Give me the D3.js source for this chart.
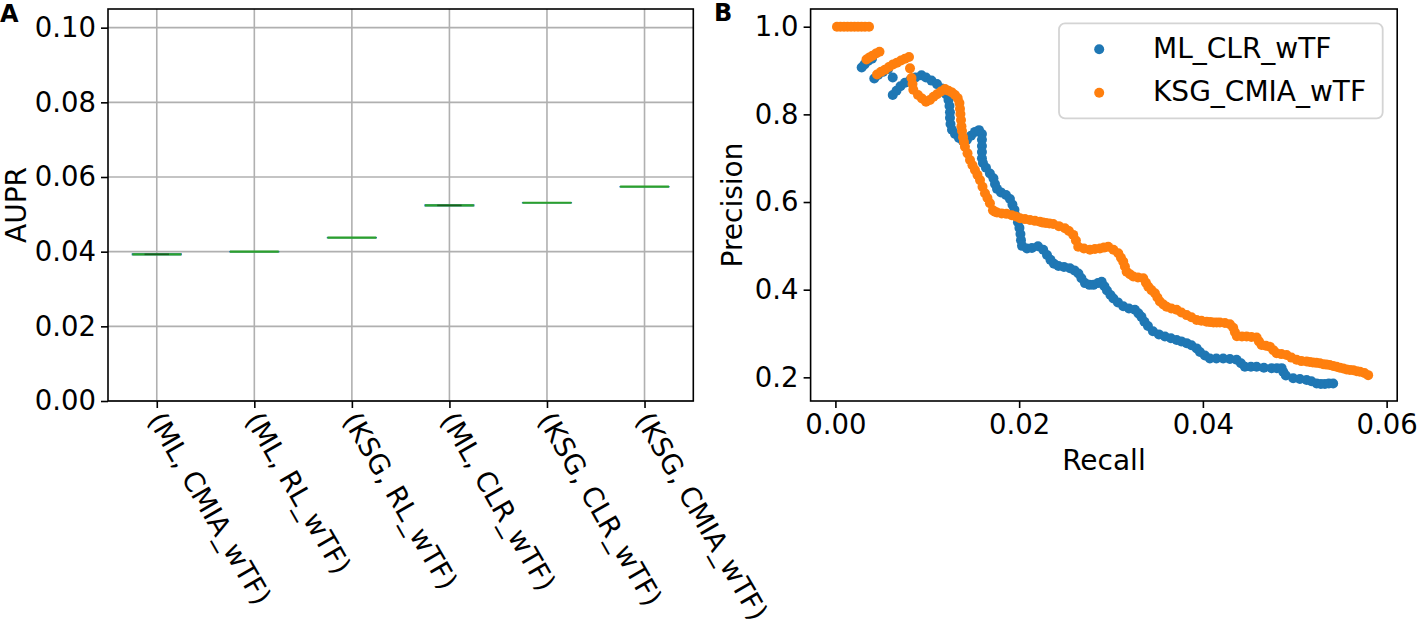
<!DOCTYPE html>
<html>
<head>
<meta charset="utf-8">
<script src="https://cdn.jsdelivr.net/npm/d3@7"></script>
<style>
  html, body { margin: 0; padding: 0; background: #fff; }
  svg { display: block; font-family: "DejaVu Sans", sans-serif; }
</style>
</head>
<body>
<svg id="chart" width="1417" height="632"></svg>
<script>
// ---------------- DATA ----------------
// Panel A: AUPR boxplots (boxes collapse to near single values)
const categories = ["(ML, CMIA_wTF)", "(ML, RL_wTF)", "(KSG, RL_wTF)", "(ML, CLR_wTF)", "(KSG, CLR_wTF)", "(KSG, CMIA_wTF)"];
const auprMedian = [0.0393, 0.0400, 0.04375, 0.0524, 0.0531, 0.0574];
const auprLow    = [0.0392, 0.0400, 0.04375, 0.0523, 0.0531, 0.0574];
const auprHigh   = [0.0394, 0.0400, 0.04375, 0.0525, 0.0531, 0.0574];
const auprTicks  = [0.00, 0.02, 0.04, 0.06, 0.08, 0.10];

// Panel B: precision-recall points [recall, precision]
const mlClrPoints = [
[0.00286,0.907],[0.00317,0.914],[0.00355,0.922],[0.00398,0.927],
[0.00423,0.882],[0.00464,0.890],[0.00518,0.897],[0.00572,0.903],
[0.00624,0.884],
[0.00624,0.844],[0.00665,0.854],[0.00708,0.864],[0.00757,0.872],[0.00812,0.878],[0.00872,0.884],[0.00937,0.889],
[0.00986,0.884],[0.01046,0.877],[0.01106,0.869],[0.01160,0.859],[0.01204,0.846],[0.01231,0.833],[0.01242,0.819],
[0.01247,0.805],[0.01247,0.792],[0.01253,0.778],[0.01269,0.765],[0.01302,0.755],[0.01345,0.746],[0.01389,0.739],
[0.01432,0.742],[0.01476,0.751],[0.01519,0.760],[0.01563,0.764],[0.01595,0.755],[0.01595,0.742],[0.01595,0.728],
[0.01595,0.714],[0.01595,0.700],[0.01606,0.689],[0.01639,0.678],[0.01682,0.665],[0.01720,0.654],[0.01737,0.641],
[0.01759,0.630],[0.01802,0.622],[0.01857,0.616],[0.01900,0.607],[0.01927,0.594],[0.01949,0.582],[0.01965,0.568],
[0.01987,0.554],[0.02003,0.541],[0.02014,0.527],[0.02020,0.513],[0.02031,0.500],[0.02085,0.494],[0.02139,0.495],
[0.02205,0.499],[0.02262,0.491],[0.02303,0.479],[0.02341,0.468],[0.02379,0.459],[0.02428,0.454],[0.02488,0.452],
[0.02553,0.449],[0.02602,0.444],[0.02645,0.437],[0.02678,0.426],[0.02716,0.415],[0.02765,0.411],[0.02809,0.411],
[0.02858,0.415],[0.02898,0.418],[0.02928,0.408],[0.02956,0.398],[0.02994,0.388],[0.03026,0.380],[0.03075,0.371],
[0.03133,0.362],[0.03195,0.357],[0.03260,0.354],[0.03298,0.346],[0.03331,0.338],[0.03364,0.327],[0.03402,0.317],
[0.03456,0.305],[0.03521,0.298],[0.03587,0.293],[0.03652,0.289],[0.03714,0.285],[0.03766,0.282],[0.03823,0.278],
[0.03875,0.273],[0.03932,0.266],[0.03968,0.258],[0.04022,0.250],[0.04076,0.243],[0.04147,0.243],[0.04221,0.243],
[0.04294,0.242],[0.04367,0.240],[0.04414,0.232],[0.04457,0.224],[0.04523,0.224],[0.04585,0.224],[0.04664,0.222],
[0.04748,0.221],[0.04805,0.221],[0.04857,0.221],[0.04876,0.212],[0.04903,0.204],[0.04983,0.198],[0.05056,0.196],
[0.05129,0.194],[0.05181,0.191],[0.05238,0.186],[0.05284,0.185],[0.05328,0.185],[0.05371,0.186],[0.05418,0.186]
];
const ksgCmiaPoints = [
[0.00017,1.000],[0.00055,1.000],[0.00094,1.000],[0.00132,1.000],[0.00170,1.000],[0.00208,1.000],[0.00246,1.000],
[0.00284,1.000],[0.00322,1.000],[0.00366,1.000],
[0.00338,0.925],[0.00371,0.930],[0.00404,0.934],[0.00442,0.939],[0.00480,0.943],
[0.00453,0.891],[0.00496,0.897],[0.00540,0.902],[0.00583,0.908],[0.00627,0.914],[0.00670,0.918],[0.00714,0.923],
[0.00757,0.927],[0.00801,0.931],
[0.00812,0.905],[0.00828,0.883],[0.00839,0.869],[0.00848,0.856],[0.00899,0.844],[0.00942,0.836],[0.00986,0.829],
[0.01029,0.833],[0.01068,0.840],[0.01106,0.846],[0.01149,0.852],[0.01193,0.858],[0.01231,0.854],[0.01269,0.850],
[0.01302,0.844],[0.01331,0.837],[0.01350,0.826],[0.01356,0.813],[0.01361,0.801],[0.01367,0.787],[0.01372,0.773],
[0.01378,0.762],[0.01389,0.748],[0.01399,0.737],[0.01410,0.726],[0.01438,0.711],[0.01465,0.696],[0.01492,0.684],
[0.01519,0.673],[0.01546,0.662],[0.01574,0.650],[0.01601,0.635],[0.01628,0.620],[0.01655,0.609],[0.01682,0.597],
[0.01715,0.581],[0.01737,0.578],[0.01759,0.576],[0.01810,0.574],[0.01862,0.573],[0.01919,0.570],[0.01965,0.567],
[0.02009,0.563],[0.02063,0.561],[0.02118,0.559],[0.02172,0.557],[0.02226,0.555],[0.02260,0.553],[0.02292,0.552],
[0.02330,0.551],[0.02371,0.550],[0.02433,0.545],[0.02498,0.540],[0.02542,0.534],[0.02589,0.525],[0.02618,0.512],
[0.02643,0.498],[0.02705,0.494],[0.02771,0.491],[0.02825,0.493],[0.02879,0.494],[0.02923,0.496],[0.02970,0.498],
[0.03026,0.491],[0.03079,0.483],[0.03108,0.473],[0.03133,0.464],[0.03151,0.453],[0.03170,0.441],[0.03206,0.435],
[0.03242,0.430],[0.03293,0.428],[0.03351,0.426],[0.03380,0.416],[0.03405,0.407],[0.03440,0.399],[0.03478,0.392],
[0.03505,0.382],[0.03532,0.373],[0.03570,0.366],[0.03605,0.361],[0.03657,0.357],[0.03714,0.354],[0.03766,0.348],
[0.03823,0.342],[0.03875,0.337],[0.03932,0.331],[0.03984,0.329],[0.04041,0.327],[0.04080,0.326],[0.04115,0.325],
[0.04150,0.325],[0.04185,0.325],[0.04240,0.324],[0.04294,0.321],[0.04330,0.313],[0.04349,0.303],[0.04370,0.294],
[0.04425,0.293],[0.04476,0.293],[0.04528,0.292],[0.04585,0.291],[0.04610,0.282],[0.04639,0.274],[0.04686,0.272],
[0.04729,0.270],[0.04767,0.262],[0.04802,0.255],[0.04854,0.253],[0.04911,0.251],[0.04963,0.245],[0.05020,0.240],
[0.05072,0.237],[0.05129,0.236],[0.05163,0.235],[0.05197,0.234],[0.05235,0.233],[0.05273,0.232],[0.05310,0.230],
[0.05344,0.229],[0.05380,0.228],[0.05418,0.226],[0.05455,0.224],[0.05491,0.222],[0.05528,0.220],[0.05564,0.218],
[0.05600,0.217],[0.05638,0.216],[0.05675,0.214],[0.05709,0.213],[0.05758,0.210],[0.05799,0.205]
];
const recallTicks = [0.00, 0.02, 0.04, 0.06];
const precisionTicks = [0.2, 0.4, 0.6, 0.8, 1.0];
const seriesNames = ["ML_CLR_wTF", "KSG_CMIA_wTF"];
const seriesColors = ["#1f77b4", "#ff7f0e"];

// ---------------- CHART ----------------
const svg = d3.select("#chart");
const tickFont = 27.5, labelFont = 28, catFont = 27.5;
const gridColor = "#b0b0b0";

// Panel A
const A = { left: 108, right: 693.3, top: 9, bottom: 401 };
const xA = d3.scalePoint().domain(categories).range([A.left, A.right]).padding(0.5);
const yA = d3.scaleLinear().domain([0, 0.105]).range([A.bottom, A.top]);
const step = xA.step();
const boxW = step * 0.5;

const gA = svg.append("g");
// grid
gA.append("g").selectAll("line").data(auprTicks).join("line")
  .attr("x1", A.left).attr("x2", A.right)
  .attr("y1", d => yA(d)).attr("y2", d => yA(d))
  .attr("stroke", gridColor).attr("stroke-width", 1.6);
gA.append("g").selectAll("line").data(categories).join("line")
  .attr("x1", d => xA(d)).attr("x2", d => xA(d))
  .attr("y1", A.top).attr("y2", A.bottom)
  .attr("stroke", gridColor).attr("stroke-width", 1.6);

// boxes
const boxes = categories.map((c, i) => ({ c, med: auprMedian[i], lo: auprLow[i], hi: auprHigh[i] }));
gA.append("g").selectAll("rect").data(boxes).join("rect")
  .attr("x", d => xA(d.c) - boxW / 2).attr("width", boxW)
  .attr("y", d => yA(d.hi)).attr("height", d => Math.max(0.01, yA(d.lo) - yA(d.hi)))
  .attr("fill", "none").attr("stroke", "#1f77b4").attr("stroke-width", 1.4);
gA.append("g").selectAll("line").data(boxes).join("line")
  .attr("x1", d => xA(d.c) - boxW / 2).attr("x2", d => xA(d.c) + boxW / 2)
  .attr("y1", d => yA(d.med)).attr("y2", d => yA(d.med))
  .attr("stroke", "#2ca02c").attr("stroke-width", 2.2);
// caps (visible only where there is spread)
const caps = [];
boxes.filter(d => d.hi > d.lo).forEach(d => { caps.push({ c: d.c, v: d.lo }); caps.push({ c: d.c, v: d.hi }); });
gA.append("g").selectAll("line").data(caps).join("line")
  .attr("x1", d => xA(d.c) - boxW / 4).attr("x2", d => xA(d.c) + boxW / 4)
  .attr("y1", d => yA(d.v)).attr("y2", d => yA(d.v))
  .attr("stroke", "#000").attr("stroke-opacity", 0.35).attr("stroke-width", 1);

// axes A
const axLeftA = gA.append("g").attr("transform", `translate(${A.left},0)`)
  .call(d3.axisLeft(yA).tickValues(auprTicks).tickFormat(d3.format(".2f")).tickSize(7).tickPadding(5));
const axBotA = gA.append("g").attr("transform", `translate(0,${A.bottom})`)
  .call(d3.axisBottom(xA).tickSize(7).tickPadding(7));
axBotA.selectAll("text").remove();
[axLeftA, axBotA].forEach(ax => {
  ax.select(".domain").remove();
  ax.selectAll("line").attr("stroke", "#000").attr("stroke-width", 1.6);
  ax.selectAll("text").attr("font-size", tickFont).attr("fill", "#000").attr("font-family", "DejaVu Sans");
});
// rotated category labels
gA.append("g").selectAll("text").data(categories).join("text")
  .attr("transform", d => `translate(${xA(d) - 2},${A.bottom + 14}) rotate(60)`)
  .attr("text-anchor", "start").attr("dy", "0.32em")
  .attr("font-size", catFont).attr("fill", "#000")
  .text(d => d);
gA.append("rect").attr("x", A.left).attr("y", A.top)
  .attr("width", A.right - A.left).attr("height", A.bottom - A.top)
  .attr("fill", "none").attr("stroke", "#000").attr("stroke-width", 1.6);
gA.append("text").attr("transform", `translate(26,${(A.top + A.bottom) / 2}) rotate(-90)`)
  .attr("text-anchor", "middle").attr("font-size", labelFont).text("AUPR");
svg.append("text").attr("x", 0).attr("y", 21.5).attr("font-size", 24).attr("font-weight", "bold").text("A");

// Panel B
const B = { left: 810.6, right: 1397.2, top: 9, bottom: 401 };
const xB = d3.scaleLinear().domain([-0.0027, 0.06115]).range([B.left, B.right]);
const yB = d3.scaleLinear().domain([0.146, 1.0404]).range([B.bottom, B.top]);
const gB = svg.append("g");
const r = 5;
[mlClrPoints, ksgCmiaPoints].forEach((pts, i) => {
  gB.append("g").selectAll("circle").data(pts).join("circle")
    .attr("cx", d => xB(d[0])).attr("cy", d => yB(d[1])).attr("r", r)
    .attr("fill", seriesColors[i]);
});
const axLeftB = gB.append("g").attr("transform", `translate(${B.left},0)`)
  .call(d3.axisLeft(yB).tickValues(precisionTicks).tickFormat(d3.format(".1f")).tickSize(7).tickPadding(5));
const axBotB = gB.append("g").attr("transform", `translate(0,${B.bottom})`)
  .call(d3.axisBottom(xB).tickValues(recallTicks).tickFormat(d3.format(".2f")).tickSize(7).tickPadding(6));
[axLeftB, axBotB].forEach(ax => {
  ax.select(".domain").remove();
  ax.selectAll("line").attr("stroke", "#000").attr("stroke-width", 1.6);
  ax.selectAll("text").attr("font-size", tickFont).attr("fill", "#000").attr("font-family", "DejaVu Sans");
});
gB.append("rect").attr("x", B.left).attr("y", B.top)
  .attr("width", B.right - B.left).attr("height", B.bottom - B.top)
  .attr("fill", "none").attr("stroke", "#000").attr("stroke-width", 1.6);
gB.append("text").attr("transform", `translate(742,${(B.top + B.bottom) / 2}) rotate(-90)`)
  .attr("text-anchor", "middle").attr("font-size", labelFont).text("Precision");
gB.append("text").attr("x", (B.left + B.right) / 2).attr("y", 470)
  .attr("text-anchor", "middle").attr("font-size", labelFont).text("Recall");
svg.append("text").attr("x", 714).attr("y", 21).attr("font-size", 24).attr("font-weight", "bold").text("B");

// legend
const lg = gB.append("g");
lg.append("rect").attr("x", 1059).attr("y", 23.3).attr("width", 323.7).attr("height", 95).attr("rx", 6)
  .attr("fill", "#fff").attr("fill-opacity", 0.8).attr("stroke", "#d4d4d4").attr("stroke-width", 1.8);
seriesNames.forEach((name, i) => {
  const cy = 49.3 + i * 43.4;
  lg.append("circle").attr("cx", 1099.2).attr("cy", cy).attr("r", r).attr("fill", seriesColors[i]);
  lg.append("text").attr("x", 1153).attr("y", cy).attr("dy", "0.3em")
    .attr("font-size", labelFont).attr("fill", "#000").text(name);
});
</script>
</body>
</html>
